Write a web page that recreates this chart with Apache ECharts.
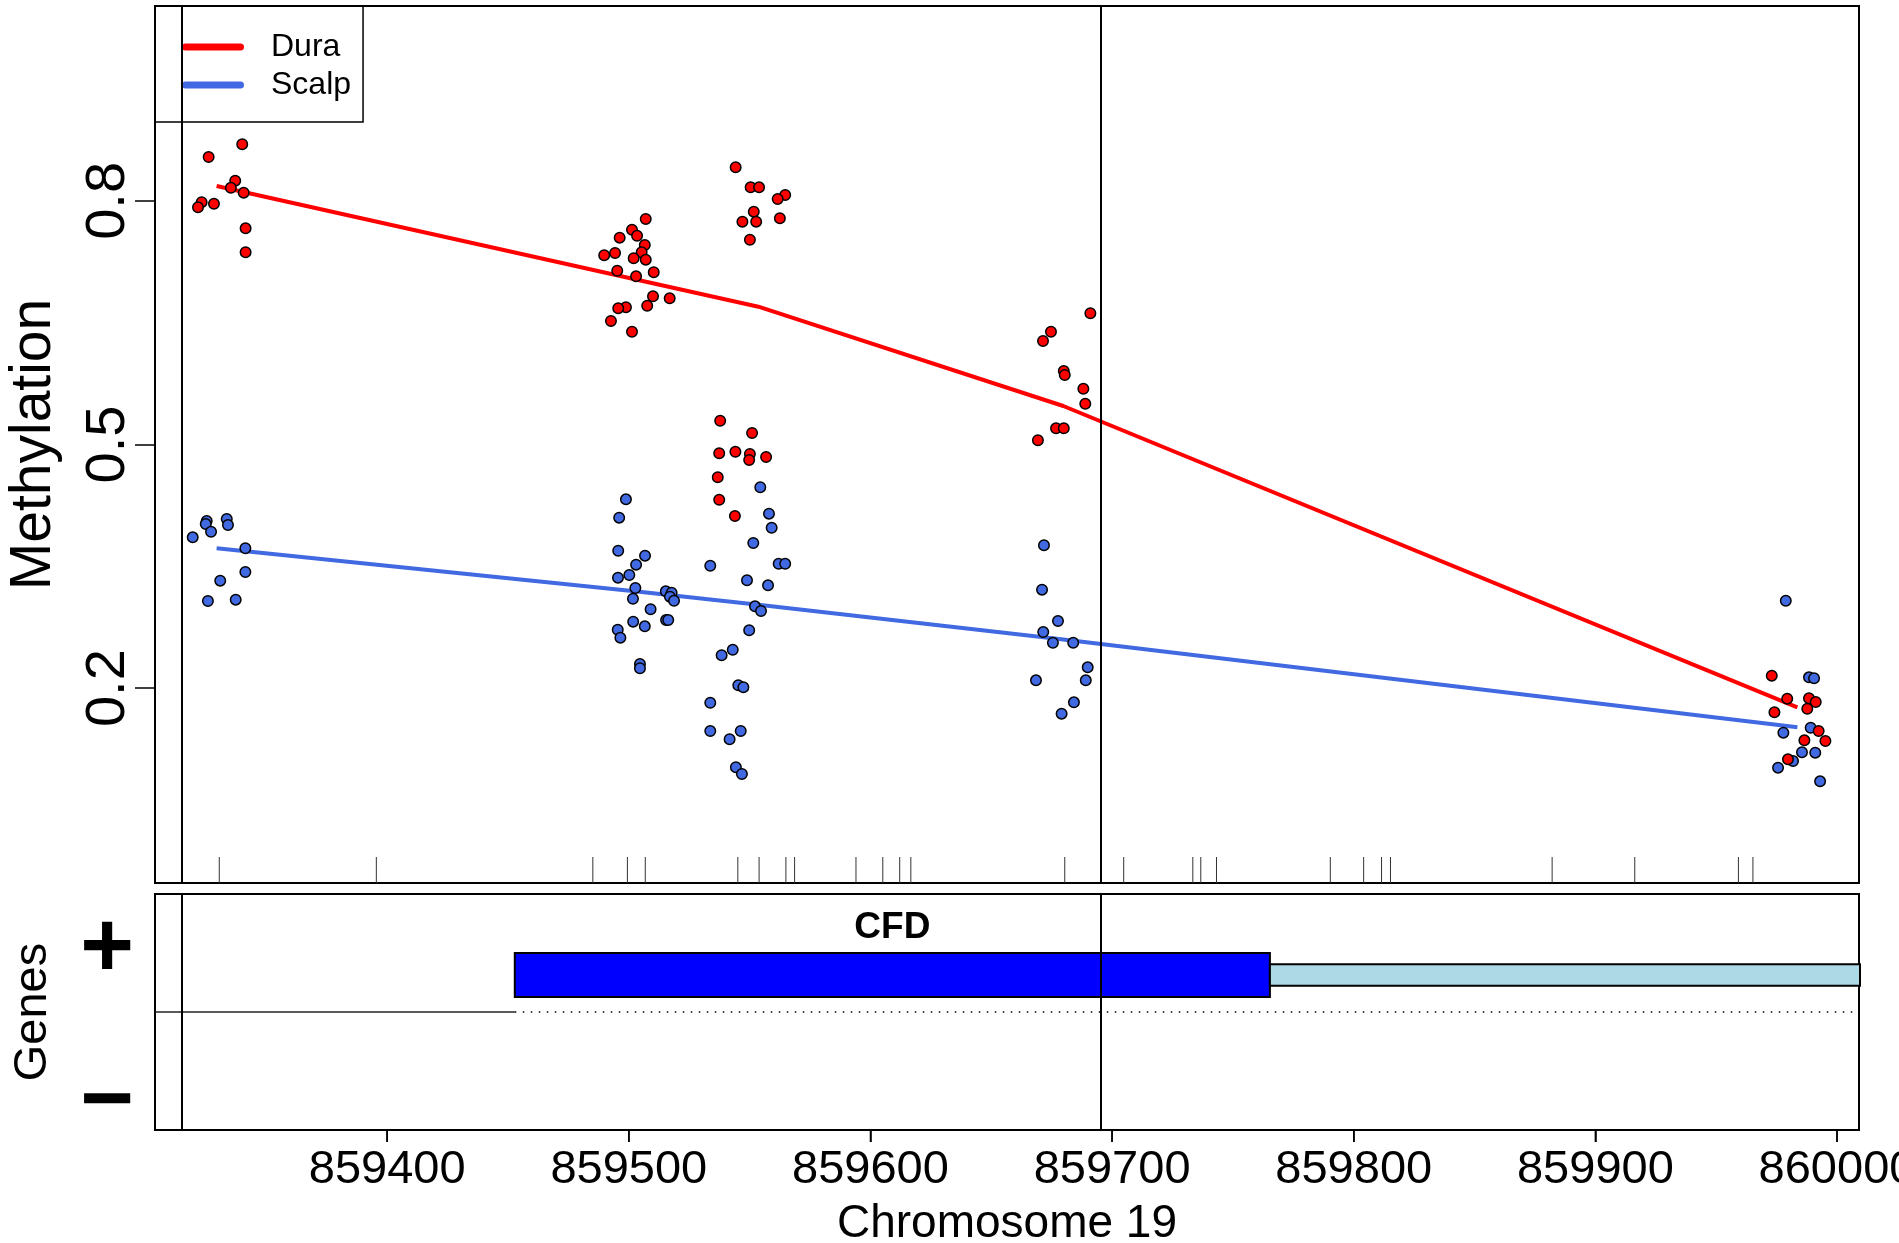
<!DOCTYPE html>
<html><head><meta charset="utf-8">
<script src="https://cdn.jsdelivr.net/npm/echarts@6/dist/echarts.min.js"></script>
<style>html,body{margin:0;padding:0;background:#fff}#c{width:1899px;height:1243px}</style>
</head><body><div id="c"></div>
<script>
// ---------------- data ----------------
const xTickValues = [859400, 859500, 859600, 859700, 859800, 859900, 860000];
const yTickValues = [0.2, 0.5, 0.8];
const xRange = [859303.9, 860009.1];
const yRange = [-0.04, 1.04];

const duraPoints = [
 [859340.0,0.8697],[859326.1,0.8540],[859337.1,0.8249],[859335.3,0.8162],[859340.6,0.8101],[859323.2,0.7983],[859321.7,0.7921],[859328.3,0.7965],[859341.4,0.7662],[859341.4,0.7367],
 [859507.0,0.7777],[859501.3,0.7645],[859503.4,0.7571],[859496.2,0.7547],[859506.6,0.7457],[859505.3,0.7367],[859494.3,0.7358],[859489.8,0.7330],[859502.0,0.7293],[859507.0,0.7276],[859495.2,0.7140],[859510.3,0.7121],[859503.0,0.7071],[859510.0,0.6825],[859516.9,0.6800],[859498.8,0.6690],[859495.6,0.6677],[859507.6,0.6709],[859492.6,0.6521],[859501.3,0.6389],
 [859544.2,0.8414],[859550.4,0.8167],[859553.9,0.8167],[859564.7,0.8073],[859561.6,0.8023],[859551.7,0.7867],[859547.0,0.7744],[859552.7,0.7744],[859562.5,0.7786],[859550.1,0.7522],
 [859537.8,0.5293],[859551.0,0.5142],[859537.4,0.4892],[859544.1,0.4911],[859550.1,0.4883],[859549.8,0.4809],[859556.8,0.4846],[859536.8,0.4596],[859537.4,0.4320],[859543.9,0.4119],
 [859691.0,0.6616],[859674.7,0.6389],[859671.4,0.6275],[859680.0,0.5905],[859680.4,0.5856],[859688.1,0.5687],[859688.9,0.5502],[859676.8,0.5199],[859680.0,0.5199],[859669.3,0.5052],
 [859973.0,0.2153],[859979.4,0.1870],[859988.4,0.1875],[859991.2,0.1829],[859987.7,0.1746],[859974.1,0.1702],[859992.4,0.1472],[859995.2,0.1349],[859986.5,0.1357],[859979.7,0.1123]
];
const scalpPoints = [
 [859325.3,0.4058],[859324.9,0.4021],[859333.6,0.4083],[859334.1,0.4009],[859327.1,0.3926],[859319.5,0.3857],[859341.3,0.3722],[859341.3,0.3430],[859330.9,0.3323],[859325.8,0.3073],[859337.3,0.3089],
 [859498.8,0.4325],[859496.0,0.4099],[859495.6,0.3692],[859506.7,0.3631],[859503.0,0.3520],[859500.2,0.3393],[859495.5,0.3360],[859502.7,0.3233],[859501.7,0.3101],[859509.0,0.2971],[859515.3,0.3192],[859517.7,0.3175],[859517.0,0.3126],[859518.7,0.3076],[859501.8,0.2818],[859506.6,0.2761],[859515.4,0.2839],[859516.3,0.2839],[859495.4,0.2719],[859496.5,0.2621],[859504.6,0.2297],[859504.6,0.2244],
 [859554.4,0.4473],[859558.0,0.4148],[859559.1,0.3975],[859551.5,0.3787],[859533.7,0.3507],[859562.0,0.3532],[859564.7,0.3532],[859548.9,0.3328],[859557.6,0.3266],[859552.2,0.3007],[859554.7,0.2950],[859549.8,0.2712],[859543.0,0.2473],[859538.4,0.2404],[859545.3,0.2035],[859547.4,0.2010],[859533.7,0.1820],[859533.7,0.1472],[859546.3,0.1472],[859541.7,0.1370],[859544.3,0.1025],[859546.8,0.0942],
 [859671.8,0.3759],[859671.0,0.3212],[859677.6,0.2826],[859671.5,0.2691],[859675.5,0.2559],[859683.9,0.2559],[859689.9,0.2256],[859668.5,0.2096],[859689.1,0.2096],[859684.2,0.1825],[859679.1,0.1685],
 [859978.8,0.3076],[859988.4,0.2133],[859990.5,0.2121],[859989.1,0.1512],[859977.8,0.1451],[859985.5,0.1210],[859991.0,0.1205],[859981.8,0.1102],[859975.6,0.1020],[859993.0,0.0852]
];
const meanPositions = [859329.4, 859503.4, 859553.6, 859679.8, 859983.6];
const duraMeans  = [0.8183, 0.7029, 0.6697, 0.5474, 0.1764];
const scalpMeans = [0.3722, 0.3191, 0.3026, 0.2599, 0.1517];

const cpgSites = [859330.5,859395.5,859485.1,859499.4,859506.8,859545.1,859553.9,859565.0,859568.6,859594.0,859605.1,859612.1,859616.7,859680.4,859704.8,859733.4,859736.7,859743.2,859790.3,859804.1,859811.5,859815.2,859882.1,859916.3,859959.2,859965.2];
const dmrBounds = [859315.1, 859695.1];

const geneName = 'CFD';
const geneCoding = [859452.8, 859765.3];
const geneUTR = [859765.3, 860100];
const geneStart = 859452.8;

// ---------------- chart ----------------
const FONT = '"Liberation Sans", Arial, Helvetica, sans-serif';
const chart = echarts.init(document.getElementById('c'), null, {renderer: 'canvas'});
const GL = 155, GR = 40;

const dmrMarkLine = {
  silent: true, symbol: ['none', 'none'], animation: false,
  label: {show: false},
  lineStyle: {color: '#000', width: 2, type: 'solid'},
  data: dmrBounds.map(v => ({xAxis: v}))
};
const capsule = 'path://M3.5,0 L58.5,0 A3.5,3.5 0 0 1 58.5,7 L3.5,7 A3.5,3.5 0 0 1 3.5,0 Z';

const option = {
  backgroundColor: '#fff',
  animation: false,
  textStyle: {fontFamily: FONT, color: '#000'},
  grid: [
    {left: GL, right: GR, top: 6, height: 877, show: true, borderColor: '#000', borderWidth: 2,
     backgroundColor: 'transparent', containLabel: false, outerBoundsMode: 'none'},
    {left: GL, right: GR, top: 894, height: 236, show: true, borderColor: '#000', borderWidth: 2,
     backgroundColor: 'transparent', containLabel: false, outerBoundsMode: 'none'}
  ],
  xAxis: [
    {type: 'value', gridIndex: 0, min: xRange[0], max: xRange[1],
     axisLine: {show: false, onZero: false}, axisTick: {show: false}, axisLabel: {show: false}, splitLine: {show: false}},
    {type: 'value', gridIndex: 1, min: xRange[0], max: xRange[1],
     name: 'Chromosome 19', nameLocation: 'middle', nameGap: 71,
     nameTextStyle: {fontSize: 46, color: '#000', fontFamily: FONT},
     axisLine: {show: true, onZero: false, lineStyle: {color: '#000', width: 2}},
     axisTick: {show: true, length: 12, lineStyle: {color: '#000', width: 1.5}, customValues: xTickValues},
     axisLabel: {show: true, fontSize: 47, color: '#000', fontFamily: FONT, margin: 17,
       customValues: xTickValues, formatter: v => String(v)},
     splitLine: {show: false}}
  ],
  yAxis: [
    {type: 'value', gridIndex: 0, min: yRange[0], max: yRange[1],
     name: 'Methylation', nameLocation: 'middle', nameRotate: 90, nameGap: 92,
     nameTextStyle: {fontSize: 57, color: '#000', fontFamily: FONT},
     axisLine: {show: false, onZero: false},
     axisTick: {show: true, length: 20, lineStyle: {color: '#000', width: 1.5}, customValues: yTickValues},
     axisLabel: {show: true, rotate: 90, fontSize: 56, color: '#000', fontFamily: FONT, margin: 18,
       customValues: yTickValues, formatter: v => v.toFixed(1)},
     splitLine: {show: false}},
    {type: 'value', gridIndex: 1, min: -1, max: 1,
     name: 'Genes', nameLocation: 'middle', nameRotate: 90, nameGap: 98,
     nameTextStyle: {fontSize: 47, color: '#000', fontFamily: FONT},
     axisLine: {show: false, onZero: false}, axisTick: {show: false}, axisLabel: {show: false}, splitLine: {show: false}}
  ],
  legend: {
    left: GL, top: 6, orient: 'vertical',
    borderColor: '#000', borderWidth: 1.5, backgroundColor: 'transparent',
    padding: [25, 12, 21, 27],
    itemWidth: 62, itemHeight: 7, itemGap: 6,
    selectedMode: false,
    textStyle: {fontSize: 32, color: '#000', fontFamily: FONT, padding: [0, 0, 0, 22]},
    data: [
      {name: 'Dura', icon: capsule, itemStyle: {color: '#FF0000', borderWidth: 0}},
      {name: 'Scalp', icon: capsule, itemStyle: {color: '#4169E1', borderWidth: 0}}
    ]
  },
  series: [
    {type: 'custom', name: 'CpG', xAxisIndex: 0, yAxisIndex: 0, silent: true, z: 1,
     data: cpgSites.map(v => [v]),
     encode: {x: 0},
     renderItem: function (params, api) {
       const p = api.coord([api.value(0), yRange[0]]);
       return {type: 'line', shape: {x1: p[0], y1: p[1], x2: p[0], y2: p[1] - 26},
               style: {stroke: '#333', lineWidth: 1}};
     },
     markLine: dmrMarkLine},
    // x-axis tick marks below the genes panel, placed through the x scale
    {type: 'custom', name: 'xticks', xAxisIndex: 1, yAxisIndex: 1, silent: true, z: 5, clip: false,
     data: xTickValues.map(v => [v]),
     encode: {x: 0},
     renderItem: function (params, api) {
       const p = api.coord([api.value(0), -1]);
       return {type: 'line', shape: {x1: p[0], y1: p[1], x2: p[0], y2: p[1] + 12},
               style: {stroke: '#000', lineWidth: 1.5}};
     }},
    {type: 'line', name: 'Dura', xAxisIndex: 0, yAxisIndex: 0, z: 3,
     data: meanPositions.map((x, i) => [x, duraMeans[i]]),
     showSymbol: false, symbol: 'none', lineStyle: {color: '#FF0000', width: 4}, itemStyle: {color: '#FF0000'}},
    {type: 'line', name: 'Scalp', xAxisIndex: 0, yAxisIndex: 0, z: 3,
     data: meanPositions.map((x, i) => [x, scalpMeans[i]]),
     showSymbol: false, symbol: 'none', lineStyle: {color: '#4169E1', width: 4}, itemStyle: {color: '#4169E1'}},
    {type: 'scatter', name: 'Scalp', xAxisIndex: 0, yAxisIndex: 0, z: 4,
     data: scalpPoints, symbol: 'circle', symbolSize: 10.5,
     itemStyle: {color: '#4169E1', borderColor: '#000', borderWidth: 1.5, opacity: 1}},
    {type: 'scatter', name: 'Dura', xAxisIndex: 0, yAxisIndex: 0, z: 4,
     data: duraPoints, symbol: 'circle', symbolSize: 10.5,
     itemStyle: {color: '#FF0000', borderColor: '#000', borderWidth: 1.5, opacity: 1}},
    {type: 'line', name: 'strand-solid', xAxisIndex: 1, yAxisIndex: 1, z: 2, silent: true,
     data: [[xRange[0], 0], [geneStart, 0]], showSymbol: false, symbol: 'none',
     lineStyle: {color: '#222', width: 1.5}},
    {type: 'line', name: 'strand-dotted', xAxisIndex: 1, yAxisIndex: 1, z: 2, silent: true,
     data: [[geneStart, 0], [xRange[1], 0]], showSymbol: false, symbol: 'none',
     lineStyle: {color: '#000', width: 1.5, type: [1.5, 6.5]}},
    {type: 'custom', name: 'gene', xAxisIndex: 1, yAxisIndex: 1, z: 3, silent: true,
     data: [[geneCoding[0], geneCoding[1], 0], [geneUTR[0], geneUTR[1], 1]],
     encode: {x: [0, 1]},
     renderItem: function (params, api) {
       const kind = api.value(2);
       const top = kind === 0 ? 0.5 : 0.405;
       const bot = kind === 0 ? 0.128 : 0.222;
       const p1 = api.coord([api.value(0), top]);
       const p2 = api.coord([api.value(1), bot]);
       const cs = params.coordSys;
       const rect = echarts.graphic.clipRectByRect(
         {x: p1[0], y: p1[1], width: p2[0] - p1[0], height: p2[1] - p1[1]},
         {x: cs.x, y: cs.y, width: cs.width + 1, height: cs.height});
       const children = [];
       if (rect) children.push({type: 'rect', shape: rect,
         style: {fill: kind === 0 ? '#0000FF' : '#ADD8E6', stroke: '#000', lineWidth: 2}});
       if (kind === 0) {
         const pc = api.coord([(api.value(0) + api.value(1)) / 2, 0.715]);
         children.push({type: 'text', x: pc[0], y: pc[1],
           style: {text: geneName, font: 'bold 37px ' + FONT, fill: '#000', align: 'center', verticalAlign: 'middle'}});
       }
       return {type: 'group', children: children};
     },
     markLine: dmrMarkLine}
  ],
  graphic: [
    {type: 'text', x: 107, y: 951, z: 10,
     style: {text: '+', font: 'bold 92px ' + FONT, fill: '#000', align: 'center', verticalAlign: 'middle'}},
    {type: 'text', x: 107, y: 1104, z: 10,
     style: {text: '\u2212', font: 'bold 92px ' + FONT, fill: '#000', align: 'center', verticalAlign: 'middle'}}
  ]
};
chart.setOption(option);
</script>
</body></html>
